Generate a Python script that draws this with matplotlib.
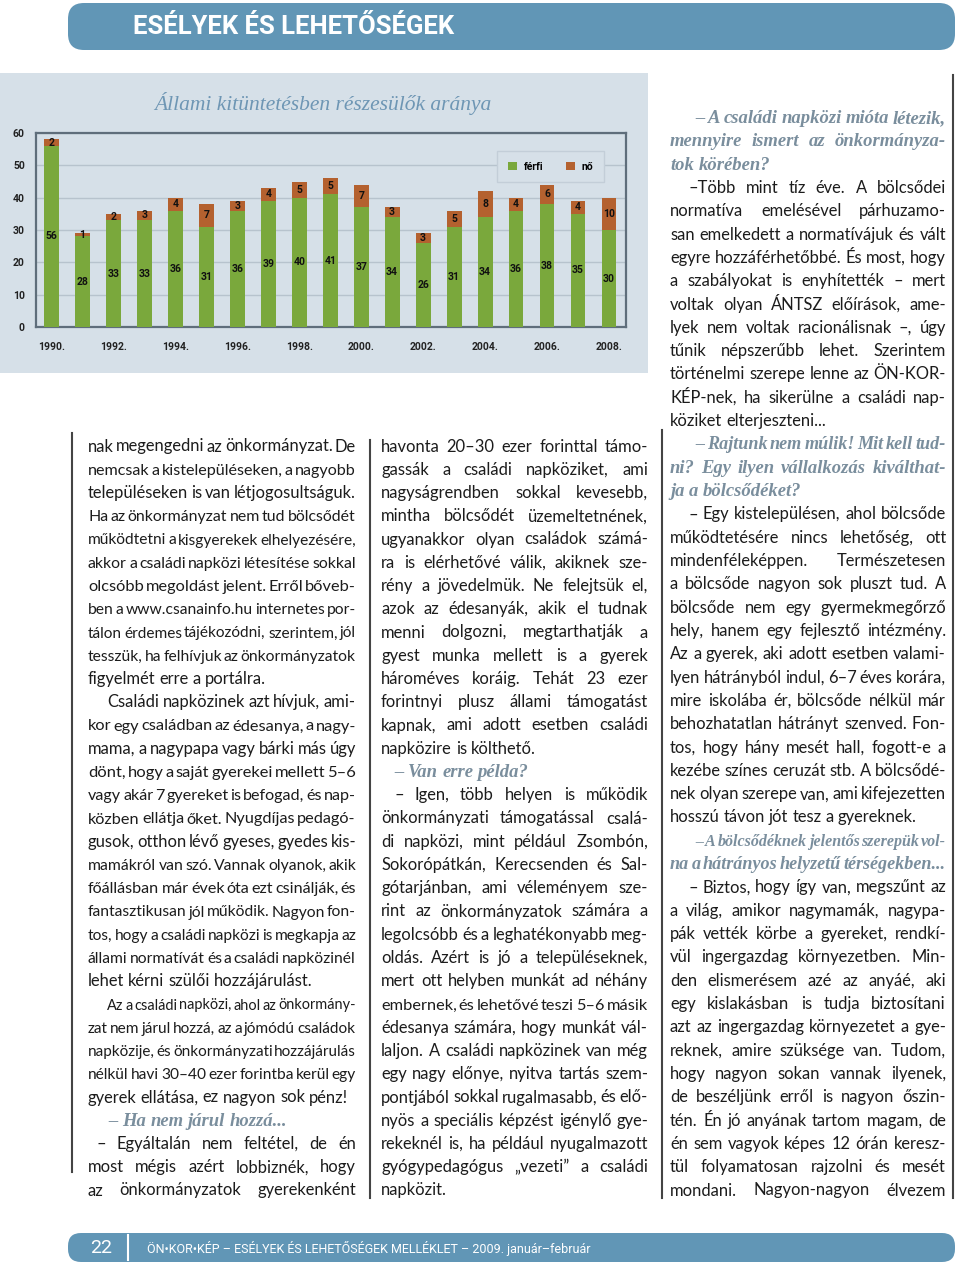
import matplotlib
matplotlib.use('Agg')
import numpy as np
import matplotlib.pyplot as plt
from matplotlib import font_manager
from matplotlib.patches import FancyBboxPatch, Rectangle

# ---- chart data ----
years = list(range(1990, 2009))
ferfi = [56, 28, 33, 33, 36, 31, 36, 39, 40, 41, 37, 34, 26, 31, 34, 36, 38, 35, 30]
no = [2, 1, 2, 3, 4, 7, 3, 4, 5, 5, 7, 3, 3, 5, 8, 4, 6, 4, 10]
year_labels = [str(y) + '.' if y % 2 == 0 else '' for y in years]
yticks = [0, 10, 20, 30, 40, 50, 60]
series_names = ['férfi', 'nő']

chart_title = 'Állami kitüntetésben részesülők aránya'
header_text = 'ESÉLYEK ÉS LEHETŐSÉGEK'
page_number = '22'
footer_text = 'ÖN•KOR•KÉP – ESÉLYEK ÉS LEHETŐSÉGEK MELLÉKLET – 2009. január–február'

# ---- article text: (kind, indent, lines, justify last line) ----
col1 = [
    ('p', 0, ['nak megengedni az önkormányzat. De',
              'nemcsak a kistelepüléseken, a nagyobb',
              'településeken is van létjogosultságuk.',
              'Ha az önkormányzat nem tud bölcsődét',
              'működtetni a kisgyerekek elhelyezésére,',
              'akkor a családi napközi létesítése sokkal',
              'olcsóbb megoldást jelent. Erről bőveb-',
              'ben a www.csanainfo.hu internetes por-',
              'tálon érdemes tájékozódni, szerintem, jól',
              'tesszük, ha felhívjuk az önkormányzatok',
              'figyelmét erre a portálra.'], False),
    ('p', 19, ['Családi napközinek azt hívjuk, ami-',
               'kor egy családban az édesanya, a nagy-',
               'mama, a nagypapa vagy bárki más úgy',
               'dönt, hogy a saját gyerekei mellett 5–6',
               'vagy akár 7 gyereket is befogad, és nap-',
               'közben ellátja őket. Nyugdíjas pedagó-',
               'gusok, otthon lévő gyeses, gyedes kis-',
               'mamákról van szó. Vannak olyanok, akik',
               'főállásban már évek óta ezt csinálják, és',
               'fantasztikusan jól működik. Nagyon fon-',
               'tos, hogy a családi napközi is megkapja az',
               'állami normatívát és a családi napközinél',
               'lehet kérni szülői hozzájárulást.'], False),
    ('p', 19, ['Az a családi napközi, ahol az önkormány-',
               'zat nem járul hozzá, az a jómódú családok',
               'napközije, és önkormányzati hozzájárulás',
               'nélkül havi 30–40 ezer forintba kerül egy',
               'gyerek ellátása, ez nagyon sok pénz!'], False),
    ('q', 20, ['– Ha nem járul hozzá...'], False),
    ('p', 8, ['– Egyáltalán nem feltétel, de én',
              'most mégis azért lobbiznék, hogy',
              'az önkormányzatok gyerekenként'], True),
]

col2 = [
    ('p', 0, ['havonta 20–30 ezer forinttal támo-',
              'gassák a családi napköziket, ami',
              'nagyságrendben sokkal kevesebb,',
              'mintha bölcsődét üzemeltetnének,',
              'ugyanakkor olyan családok számá-',
              'ra is elérhetővé válik, akiknek sze-',
              'rény a jövedelmük. Ne felejtsük el,',
              'azok az édesanyák, akik el tudnak',
              'menni dolgozni, megtarthatják a',
              'gyest munka mellett is a gyerek',
              'hároméves koráig. Tehát 23 ezer',
              'forintnyi plusz állami támogatást',
              'kapnak, ami adott esetben családi',
              'napközire is költhető.'], False),
    ('q', 13, ['– Van erre példa?'], False),
    ('p', 13, ['– Igen, több helyen is működik',
               'önkormányzati támogatással csalá-',
               'di napközi, mint például Zsombón,',
               'Sokorópátkán, Kerecsenden és Sal-',
               'gótarjánban, ami véleményem sze-',
               'rint az önkormányzatok számára a',
               'legolcsóbb és a leghatékonyabb meg-',
               'oldás. Azért is jó a településeknek,',
               'mert ott helyben munkát ad néhány',
               'embernek, és lehetővé teszi 5–6 másik',
               'édesanya számára, hogy munkát vál-',
               'laljon.  A családi napközinek van még',
               'egy nagy előnye, nyitva tartás szem-',
               'pontjából sokkal rugalmasabb, és elő-',
               'nyös a speciális képzést igénylő gye-',
               'rekeknél is, ha például nyugalmazott',
               'gyógypedagógus „vezeti” a családi',
               'napközit.'], False),
]

col3 = [
    ('q', 25, ['– A családi napközi mióta létezik,',
               'mennyire ismert az önkormányza-',
               'tok körében?'], False),
    ('p', 18, ['–Több mint tíz éve. A bölcsődei',
               'normatíva emelésével párhuzamo-',
               'san emelkedett a normatívájuk és vált',
               'egyre hozzáférhetőbbé. És most, hogy',
               'a szabályokat is enyhítették – mert',
               'voltak olyan ÁNTSZ előírások, ame-',
               'lyek nem voltak racionálisnak –, úgy',
               'tűnik népszerűbb lehet. Szerintem',
               'történelmi szerepe lenne az ÖN-KOR-',
               'KÉP-nek, ha sikerülne a családi nap-',
               'köziket elterjeszteni...'], False),
    ('q', 25, ['– Rajtunk nem múlik! Mit kell tud-',
               'ni? Egy ilyen vállalkozás kiválthat-',
               'ja a bölcsődéket?'], False),
    ('p', 18, ['– Egy kistelepülésen, ahol bölcsőde',
               'működtetésére nincs lehetőség, ott',
               'mindenféleképpen. Természetesen',
               'a bölcsőde nagyon sok pluszt tud. A',
               'bölcsőde nem egy gyermekmegőrző',
               'hely, hanem egy fejlesztő intézmény.',
               'Az a gyerek, aki adott esetben valami-',
               'lyen hátrányból indul, 6–7 éves korára,',
               'mire iskolába ér, bölcsőde nélkül már',
               'behozhatatlan hátrányt szenved. Fon-',
               'tos, hogy hány mesét hall, fogott-e a',
               'kezébe színes ceruzát stb. A bölcsődé-',
               'nek olyan szerepe van, ami kifejezetten',
               'hosszú távon jót tesz a gyereknek.'], False),
    ('q', 25, ['– A bölcsődéknek jelentős szerepük vol-',
               'na a hátrányos helyzetű térségekben...'], True),
    ('p', 18, ['– Biztos, hogy így van, megszűnt az',
               'a világ, amikor nagymamák, nagypa-',
               'pák vették körbe a gyereket, rendkí-',
               'vül ingergazdag környezetben. Min-',
               'den elismerésem azé az anyáé, aki',
               'egy kislakásban is tudja biztosítani',
               'azt az ingergazdag környezetet a gye-',
               'reknek, amire szüksége van. Tudom,',
               'hogy nagyon sokan vannak ilyenek,',
               'de beszéljünk erről is nagyon őszin-',
               'tén. Én jó anyának tartom magam, de',
               'én sem vagyok képes 12 órán keresz-',
               'tül folyamatosan rajzolni és mesét',
               'mondani. Nagyon-nagyon élvezem'], True),
]

# ---- fonts ----
names = {f.name for f in font_manager.fontManager.ttflist}


def pick(*cands):
    for c in cands:
        if c in names:
            return c
    return 'DejaVu Sans'


BODY = pick('Lato', 'Open Sans', 'Noto Sans')
NARROW = pick('Liberation Sans Narrow', 'Roboto', 'Lato')
SERIF = pick('Liberation Serif', 'DejaVu Serif')

GREEN = '#7aa83c'
BROWN = '#b4612f'
PANEL = '#d6e0e8'
BLUE = '#6196b6'
QCOLOR = '#7a8e9d'
INK = '#1c1c1c'

W, H = 960, 1267
fig = plt.figure(figsize=(W / 100, H / 100), dpi=100)
page = fig.add_axes([0, 0, 1, 1])
page.set_xlim(0, W)
page.set_ylim(H, 0)
page.axis('off')
R = fig.canvas.get_renderer()


def fit_text(x, y, s, width, size, **kw):
    t = page.text(x, y, s, fontsize=size, **kw)
    w = t.get_window_extent(R).width
    t.set_fontsize(size * width / w)
    return t


def put_line(s, x0, x1, yb, size, justify, **kw):
    words = s.split()
    ts = [page.text(0, yb, w, fontsize=size, va='baseline', ha='left', **kw) for w in words]
    ws = [t.get_window_extent(R).width for t in ts]
    px = size * 100 / 72
    avail = x1 - x0
    gap = 0.24 * px
    need = sum(ws) + 0.13 * px * (len(ws) - 1)
    if need > avail:
        k = avail / need
        for t in ts:
            t.set_fontsize(size * k)
        ws = [w * k for w in ws]
        gap = gap * k
    if justify and len(ws) > 1:
        gap = (avail - sum(ws)) / (len(ws) - 1)
    x = x0
    for t, w in zip(ts, ws):
        t.set_x(x)
        x += w + gap


def put_column(paras, x0, x1, y_first, y_last):
    n = sum(len(p[2]) for p in paras)
    step = (y_last - y_first) / (n - 1)
    i = 0
    for kind, indent, lines, just_last in paras:
        for j, line in enumerate(lines):
            left = x0 + (indent if j == 0 else 0)
            just = just_last or j < len(lines) - 1
            if kind == 'q':
                put_line(line, left, x1, y_first + i * step, 13.4, just,
                         family=SERIF, style='italic', weight='bold', color=QCOLOR)
            else:
                put_line(line, left, x1, y_first + i * step, 11.9, just,
                         family=BODY, color=INK)
            i += 1


# header and footer bars
page.add_patch(FancyBboxPatch((68, 3), 887, 47, boxstyle='round,pad=0,rounding_size=16',
                              fc=BLUE, ec='none'))
fit_text(133, 27, header_text, 320, 20, family=NARROW, weight='bold', color='white',
         va='center', ha='left')
page.add_patch(FancyBboxPatch((68, 1233), 887, 29, boxstyle='round,pad=0,rounding_size=13',
                              fc=BLUE, ec='none'))
page.text(101, 1248, page_number, fontsize=14, family=NARROW, color='white',
          va='center', ha='center')
page.plot([128, 128], [1235, 1260], color='white', lw=1.5)
fit_text(147, 1248, footer_text, 443, 10, family=NARROW, color='white',
         va='center', ha='left')

# chart panel
page.add_patch(Rectangle((0, 73), 648, 300, fc=PANEL, ec='none'))
fit_text(323, 110, chart_title, 337, 16, family=SERIF, style='italic', color='#6e96b4',
         va='baseline', ha='center')

# column rules
for x, y0, y1 in [(72, 433, 1172), (370, 440, 1198), (662, 430, 1198), (953, 75, 1198)]:
    page.plot([x, x], [y0, y1], color='#444444', lw=1.5)

put_column(col1, 88, 356, 451.5, 1195.5)
put_column(col2, 381, 648, 451.5, 1195.5)
put_column(col3, 670, 946, 123, 1195.5)

# ---- bar chart ----
ax = fig.add_axes([36 / W, 1 - 327 / H, 590 / W, 194 / H])
ax.set_facecolor('none')
x = np.arange(len(years))
bw = 0.48
ax.bar(x, ferfi, width=bw, color=GREEN, zorder=3, label=series_names[0])
ax.bar(x, no, bottom=ferfi, width=bw, color=BROWN, zorder=3, label=series_names[1])
for i in x:
    ax.text(i, ferfi[i] / 2, str(ferfi[i]), ha='center', va='center', fontsize=7.5,
            weight='bold', family=NARROW, color='#111111', zorder=4)
    ax.text(i, ferfi[i] + no[i] / 2, str(no[i]), ha='center', va='center', fontsize=7.5,
            weight='bold', family=NARROW, color='#111111', zorder=4)

ax.set_xlim(-0.5, 18.55)
ax.set_ylim(0, 60)
ax.set_yticks(yticks)
ax.set_xticks(x)
ax.set_xticklabels(year_labels)
ax.yaxis.grid(True, color='#b7c3cd', lw=1)
ax.set_axisbelow(True)
ax.tick_params(length=0, labelsize=7.5)
ax.tick_params(axis='x', pad=11)
ax.tick_params(axis='y', pad=8)
for lab in ax.get_xticklabels() + ax.get_yticklabels():
    lab.set_fontweight('bold')
    lab.set_family(NARROW)
    lab.set_color('#222222')
for s in ax.spines.values():
    s.set_color('#5f6e7b')
    s.set_linewidth(1.6)

leg = ax.legend(ncol=2, loc='center', bbox_to_anchor=(0.872, 0.827), frameon=True,
                fancybox=False, edgecolor='#c3ced8', facecolor=PANEL, framealpha=1,
                handlelength=0.9, handleheight=0.9, columnspacing=2.2, handletextpad=0.6,
                borderpad=1.0, prop={'family': NARROW, 'weight': 'bold', 'size': 7.5})
leg.get_frame().set_linewidth(1)

fig.savefig('out.png', dpi=100)
